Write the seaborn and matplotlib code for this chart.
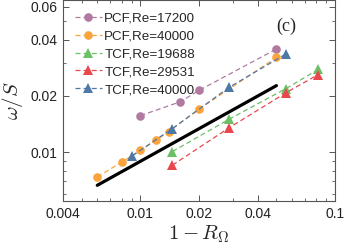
import numpy as np
import pandas as pd
import matplotlib
matplotlib.use("Agg")
import matplotlib.pyplot as plt
import seaborn as sns
from matplotlib.ticker import LogLocator, FixedLocator, FixedFormatter, NullFormatter

# ---- data ----
pcf17200_x = [0.01, 0.016, 0.02, 0.05]
pcf17200_y = [0.0157, 0.0186, 0.0214, 0.0356]
pcf40000_x = [0.006, 0.008, 0.01, 0.012, 0.014, 0.02, 0.05]
pcf40000_y = [0.0074, 0.00885, 0.01025, 0.0116, 0.0129, 0.0170, 0.0321]
tcf19688_x = [0.0146, 0.0285, 0.056, 0.082]
tcf19688_y = [0.0101, 0.0150, 0.0219, 0.0277]
tcf29531_x = [0.0146, 0.0285, 0.056, 0.082]
tcf29531_y = [0.00854, 0.0135, 0.0208, 0.0260]
tcf40000_x = [0.0091, 0.0146, 0.0285, 0.056]
tcf40000_y = [0.0096, 0.0134, 0.0222, 0.0335]
fit_x = [0.006, 0.05]
fit_y = [0.00667, 0.0227]

labels = ["PCF,Re=17200", "PCF,Re=40000", "TCF,Re=19688", "TCF,Re=29531", "TCF,Re=40000"]
xticks = [0.004, 0.01, 0.02, 0.04, 0.1]
xtick_labels = ["0.004", "0.01", "0.02", "0.04", "0.1"]
yticks = [0.01, 0.02, 0.04, 0.06]
ytick_labels = ["0.01", "0.02", "0.04", "0.06"]

sns.set_style("ticks")
plt.rcParams["font.family"] = ["Liberation Sans", "DejaVu Sans"]
plt.rcParams["mathtext.fontset"] = "cm"

fig = plt.figure(figsize=(3.45, 2.45), dpi=100)
ax = fig.add_axes([0.1826, 0.1796, 0.971 - 0.1826, 1.0 - 0.1796])

colors = ["#b07aa1", "#fba33c", "#6bbf64", "#e8474c", "#4e79a7"]
markers = ["o", "o", "^", "^", "^"]
msizes = [6.2, 6.2, 7.2, 7.2, 7.2]
series = [(pcf17200_x, pcf17200_y), (pcf40000_x, pcf40000_y),
          (tcf19688_x, tcf19688_y), (tcf29531_x, tcf29531_y),
          (tcf40000_x, tcf40000_y)]

for (xs, ys), lab, c, m, ms in zip(series, labels, colors, markers, msizes):
    df = pd.DataFrame({"x": xs, "y": ys})
    sns.lineplot(data=df, x="x", y="y", ax=ax, color=c, marker=m, markersize=ms,
                 markeredgewidth=0, markeredgecolor=c, linestyle=(0, (4, 2.5)),
                 linewidth=0.9, sort=False, label=lab)

sns.lineplot(data=pd.DataFrame({"x": fit_x, "y": fit_y}), x="x", y="y", ax=ax,
             color="black", linewidth=2.3, sort=False, legend=False)

ax.set_xscale("log")
ax.set_yscale("log")
ax.set_xlim(0.004, 0.1)
ax.set_ylim(0.0055, 0.065)

ax.xaxis.set_major_locator(FixedLocator(xticks))
ax.xaxis.set_major_formatter(FixedFormatter(xtick_labels))
ax.xaxis.set_minor_locator(LogLocator(base=10, subs=np.arange(1, 10)))
ax.xaxis.set_minor_formatter(NullFormatter())
ax.yaxis.set_major_locator(FixedLocator(yticks))
ax.yaxis.set_major_formatter(FixedFormatter(ytick_labels))
ax.yaxis.set_minor_locator(LogLocator(base=10, subs=np.arange(1, 10)))
ax.yaxis.set_minor_formatter(NullFormatter())

for s in ax.spines.values():
    s.set_color("#555555")
    s.set_linewidth(0.8)
ax.tick_params(which="both", direction="in", top=True, right=True, colors="#555555",
               labelcolor="#222222", labelsize=10)
ax.tick_params(which="major", length=4, width=0.7, pad=4)
ax.tick_params(which="minor", length=2.3, width=0.6)

ax.set_xlabel(r"$1-R_{\Omega}$", fontsize=15, labelpad=2)
ax.set_ylabel(r"$\omega/S$", fontsize=15, labelpad=4)

ax.text(0.82, 0.87, "(c)", transform=ax.transAxes, fontsize=13,
        family=["Liberation Serif", "DejaVu Serif"], ha="center", va="center")

leg = ax.legend(loc="upper left", frameon=False, fontsize=9.6, handlelength=2.0,
                handletextpad=0.2, labelspacing=0.42, borderaxespad=0.45,
                borderpad=0.45)

fig.savefig("out.png", dpi=100)
